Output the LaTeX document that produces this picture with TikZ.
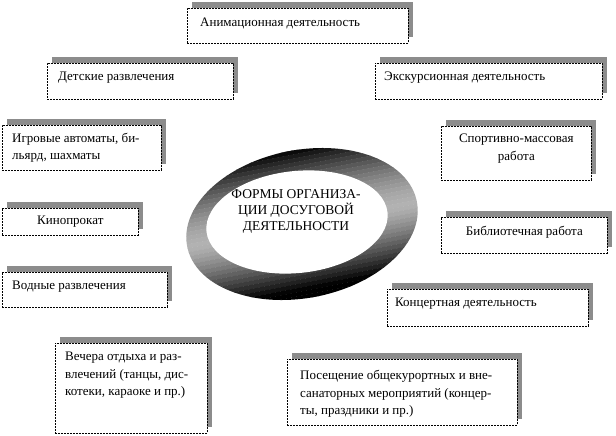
\documentclass[tikz,border=0pt]{standalone}
\usepackage{fontspec}
\setmainfont{Liberation Serif}
\usetikzlibrary{shadows,calc}
\tikzset{
  boxst/.style={draw, line width=0.7pt, dash pattern=on 2pt off 1pt, fill=white,
    inner sep=0pt, anchor=north west,
    drop shadow={shadow xshift=5pt, shadow yshift=6pt, fill=black!45, opacity=1}},
  txt/.style={inner sep=0pt, font=\fontsize{13}{17.5}\selectfont},
}
\begin{document}
\begin{tikzpicture}[x=1pt,y=-1pt]
\useasboundingbox (0,0) rectangle (616,436);
% central ring, banded grey
\begin{scope}[shift={(302,224)}, rotate=11]
  \clip (0,0) ellipse [x radius=117, y radius=74];
  \foreach \i in {0,...,38} {
    \pgfmathsetmacro\t{-78+4*\i}
    \pgfmathsetmacro\s{abs(\t)/70+0.001}
    \pgfmathsetmacro\v{min(100,(\t<0) ? (30+60*\s^1.6) : (30+80*\s^1.3))}
    \fill[black!\v] (-130,\t) rectangle (130,\t+4.3);
  }
\end{scope}
\fill[white, rotate around={6:(297,222)}] (297,222) ellipse [x radius=91, y radius=51];
\node[txt, align=center, font=\fontsize{13.5}{16}\selectfont] (center) at (296,211)
  {ФОРМЫ ОРГАНИЗА-\\ЦИИ ДОСУГОВОЙ\\ДЕЯТЕЛЬНОСТИ};
% boxes
\node[boxst, minimum width=221, minimum height=35] (anim) at (187,8) {};
\node[txt, anchor=west] (animt) at ($(anim.west)+(13,-2)$) {Анимационная деятельность};

\node[boxst, minimum width=186, minimum height=36] (det) at (47,63) {};
\node[txt, anchor=west] (dett) at ($(det.west)+(11,-4)$) {Детские развлечения};

\node[boxst, minimum width=227, minimum height=36] (exc) at (375,63) {};
\node[txt, anchor=west] (exct) at ($(exc.west)+(9,-4)$) {Экскурсионная деятельность};

\node[boxst, minimum width=159, minimum height=45] (igr) at (2,125) {};
\node[txt, anchor=west, align=left] (igrt) at ($(igr.west)+(10,0)$) {Игровые автоматы, би-\\льярд, шахматы};

\node[boxst, minimum width=150, minimum height=54] (spo) at (441,126) {};
\node[txt, align=center] (spot) at ($(spo.center)+(0,-5)$) {Спортивно-массовая\\работа};

\node[boxst, minimum width=136, minimum height=27] (kin) at (2,208) {};
\node[txt] (kint) at (kin.center) {Кинопрокат};

\node[boxst, minimum width=166, minimum height=36] (bib) at (441,217) {};
\node[txt] (bibt) at ($(bib.center)+(0,-3)$) {Библиотечная работа};

\node[boxst, minimum width=165, minimum height=35] (vod) at (2,272) {};
\node[txt, anchor=west] (vodt) at ($(vod.west)+(10,-3)$) {Водные развлечения};

\node[boxst, minimum width=201, minimum height=37] (kon) at (387,289) {};
\node[txt, anchor=west] (kont) at ($(kon.west)+(8,-4)$) {Концертная деятельность};

\node[boxst, minimum width=152, minimum height=90] (vec) at (55,343) {};
\node[txt, anchor=north west, align=left] (vect) at ($(vec.north west)+(10,9)$)
  {Вечера отдыха и раз-\\влечений (танцы, дис-\\котеки, караоке и пр.)};

\node[boxst, minimum width=230, minimum height=66] (pos) at (287,359) {};
\node[txt, anchor=north west, align=left] (post) at ($(pos.north west)+(13,11)$)
  {Посещение общекурортных и вне-\\санаторных мероприятий (концер-\\ты, праздники и пр.)};
\end{tikzpicture}
\end{document}
